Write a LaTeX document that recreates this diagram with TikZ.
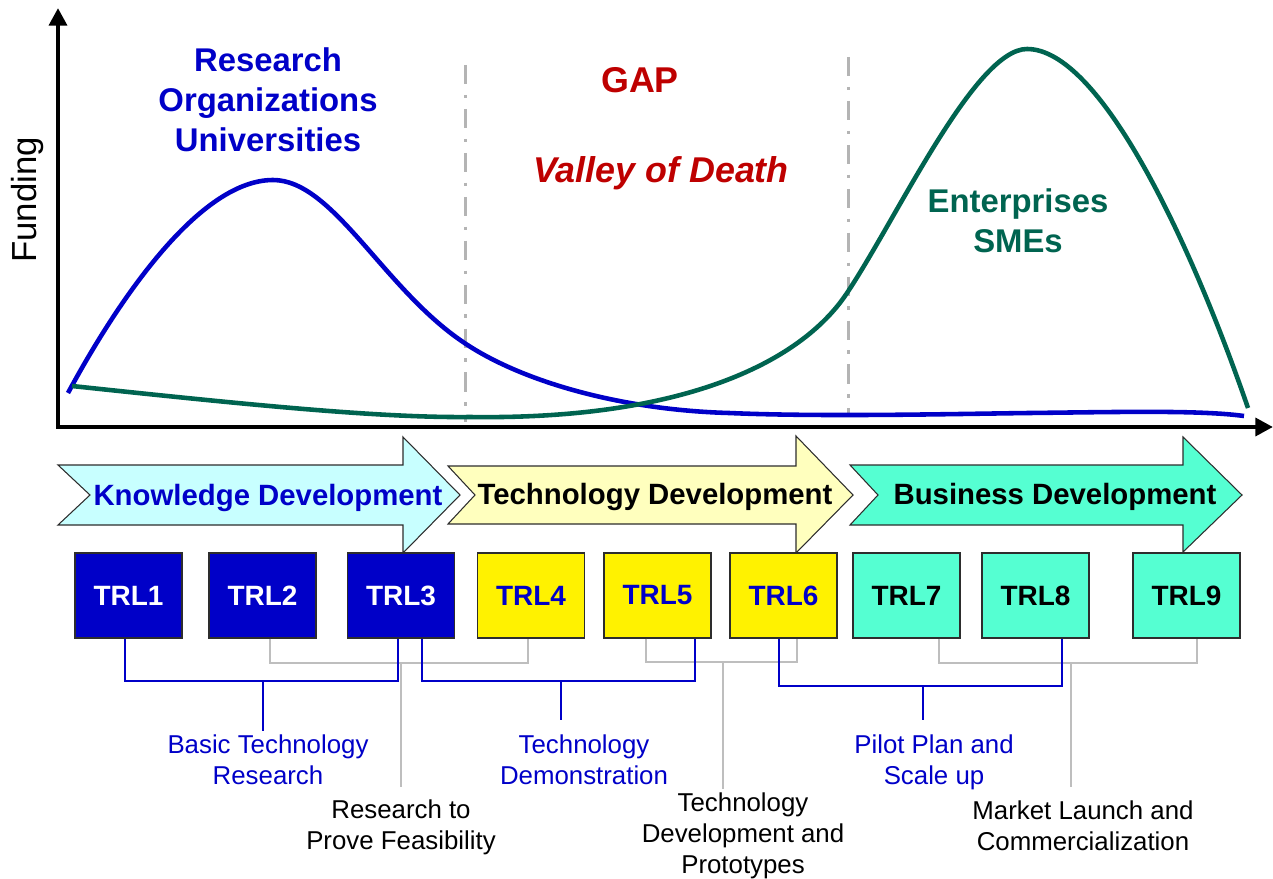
\documentclass[tikz,border=0pt]{standalone}
\usepackage{fontspec}
\setmainfont{Liberation Sans}
\usetikzlibrary{calc,arrows.meta}

\definecolor{trlblue}{RGB}{0,0,200}
\definecolor{entgreen}{RGB}{0,100,80}
\definecolor{gapred}{RGB}{190,0,0}
\definecolor{knowfill}{RGB}{200,255,255}
\definecolor{techfill}{RGB}{255,255,190}
\definecolor{busfill}{RGB}{85,255,210}
\definecolor{linkgray}{RGB}{190,190,190}
\definecolor{dashgray}{RGB}{180,180,180}
\definecolor{boxline}{RGB}{45,45,45}

\tikzset{
  trl/.style={draw=boxline, line width=0.8pt, minimum width=2.14cm, minimum height=1.7cm,
    inner sep=0pt, font=\fontsize{15.9}{19}\selectfont\bfseries},
  phase/.style={draw=boxline, line width=0.6pt},
  phasetext/.style={anchor=base, inner sep=0pt, font=\fontsize{16.7}{20}\selectfont\bfseries},
  bluelink/.style={draw=trlblue, line width=1.1pt},
  graylink/.style={draw=linkgray, line width=1.1pt},
  steplabel/.style={align=center, anchor=north, inner sep=2pt, font=\fontsize{14.7}{17.6}\selectfont},
  actor/.style={align=center, inner sep=0pt, font=\fontsize{18.7}{22.7}\selectfont\bfseries},
  gapline/.style={draw=dashgray, line width=1.7pt, dash pattern=on 11pt off 6pt on 2pt off 6pt},
}

\begin{document}
\begin{tikzpicture}[x=0.02cm, y=-0.02cm]
  \useasboundingbox (0,0) rectangle (1273,878);

  % Axes
  \draw[line width=2.7pt, line join=miter, {Triangle[length=10pt,width=10pt]}-{Triangle[length=10pt,width=10pt]}]
    (58,8) -- (58,427) -- (1273,427);
  \node[rotate=90, font=\fontsize{19.8}{24}\selectfont] (funding) at (28,200) {Funding};

  % Gap borders
  \draw[gapline] (465,65) -- (465,422);
  \draw[gapline] (848,57) -- (848,415);

  % Funding curves
  \draw[trlblue, line width=2.6pt]
    (68,393) .. controls (110,315) and (195,180) .. (273,180)
    .. controls (333,180) and (383,288) .. (463,342)
    .. controls (520,381) and (620,410) .. (729,413)
    .. controls (820,417) and (950,414) .. (1029,413)
    .. controls (1120,412) and (1200,410) .. (1244,416);
  \draw[entgreen, line width=2.6pt]
    (72,386) .. controls (250,405) and (380,418) .. (470,417)
    .. controls (680,420) and (800,364) .. (847,293)
    .. controls (897,218) and (975,49) .. (1027,49)
    .. controls (1100,49) and (1190,240) .. (1248,408);

  % Actors
  \node[actor, text=trlblue] (research) at (268,100) {Research\\Organizations\\Universities};
  \node[actor, text=entgreen] (enterprises) at (1018,221) {Enterprises\\SMEs};
  \node[font=\fontsize{20.4}{24}\selectfont\bfseries, text=gapred, inner sep=0pt] (gap) at (640,80) {GAP};
  \node[font=\fontsize{20.4}{24}\selectfont\bfseries\itshape, text=gapred, anchor=base, inner sep=0pt]
    (valley) at (661,183) {Valley of Death};

  % Phases
  \draw[phase, fill=knowfill] (58,465) -- (403,465) -- (403,437) -- (460,495) -- (403,553)
    -- (403,525) -- (58,525) -- (90,495) -- cycle;
  \draw[phase, fill=techfill] (448,466) -- (796,466) -- (796,436) -- (853,495) -- (796,553)
    -- (796,524) -- (448,524) -- (475,495) -- cycle;
  \draw[phase, fill=busfill] (850,465) -- (1183,465) -- (1183,437) -- (1242,495) -- (1183,552)
    -- (1183,525) -- (850,525) -- (878,495) -- cycle;
  \node[phasetext, text=trlblue] (know) at (268,505) {Knowledge Development};
  \node[phasetext] (tech) at (655,504) {Technology Development};
  \node[phasetext] (bus) at (1055,504) {Business Development};

  % TRL boxes
  \node[trl, fill=trlblue, text=white] (trl1) at (128.5,595.5) {TRL1};
  \node[trl, fill=trlblue, text=white] (trl2) at (262.5,595.5) {TRL2};
  \node[trl, fill=trlblue, text=white] (trl3) at (401,595.5) {TRL3};
  \node[trl, fill=yellow, text=trlblue] (trl4) at (531,595.5) {TRL4};
  \node[trl, fill=yellow, text=trlblue] (trl5) at (657.5,595.5) {TRL5};
  \node[trl, fill=yellow, text=trlblue] (trl6) at (783.5,595.5) {TRL6};
  \node[trl, fill=busfill] (trl7) at (906.5,595.5) {TRL7};
  \node[trl, fill=busfill] (trl8) at (1035.5,595.5) {TRL8};
  \node[trl, fill=busfill] (trl9) at (1186.5,595.5) {TRL9};

  % Step labels
  \node[steplabel, text=trlblue] (basic) at (268,731) {Basic Technology\\Research};
  \node[steplabel, text=trlblue] (demo) at (584,731) {Technology\\Demonstration};
  \node[steplabel, text=trlblue] (pilot) at (934,731) {Pilot Plan and\\Scale up};
  \node[steplabel] (feasible) at (401,796) {Research to\\Prove Feasibility};
  \node[steplabel] (proto) at (743,789) {Technology\\Development and\\Prototypes};
  \node[steplabel] (market) at (1083,797) {Market Launch and\\Commercialization};

  % Gray brackets
  \draw[graylink] ($(trl2.south)+(7.5,0)$) -- ++(0,24) -| ($(trl4.south)+(-3,0)$);
  \draw[graylink] ($(trl5.south)+(-11.5,0)$) -- ++(0,23) -| ($(trl6.south)+(13.5,0)$);
  \draw[graylink] ($(trl7.south)+(32.5,0)$) -- ++(0,24) -| ($(trl9.south)+(10.5,0)$);
  \coordinate (feasfork) at (401,662);
  \coordinate (protofork) at (723,661);
  \coordinate (marketfork) at (1071,662);
  \draw[graylink, shorten >=5pt] (feasfork) -- (feasfork |- feasible.north);
  \draw[graylink] (protofork) -- (protofork |- proto.north);
  \draw[graylink, shorten >=5.5pt] (marketfork) -- (marketfork |- market.north);

  % Blue brackets
  \draw[bluelink] ($(trl1.south)+(-3.5,0)$) -- ++(0,42) -| ($(trl3.south)+(-3,0)$);
  \draw[bluelink] ($(trl3.south)+(21,0)$) -- ++(0,42) -| ($(trl5.south)+(37.5,0)$);
  \draw[bluelink] ($(trl6.south)+(-4.5,0)$) -- ++(0,47) -| ($(trl8.south)+(26.5,0)$);
  \coordinate (basicfork) at (263,680);
  \coordinate (demofork) at (561,680);
  \coordinate (pilotfork) at (923,685);
  \draw[bluelink] (basicfork) -- (basicfork |- basic.north);
  \draw[bluelink, shorten >=6pt] (demofork) -- (demofork |- demo.north);
  \draw[bluelink, shorten >=6pt] (pilotfork) -- (pilotfork |- pilot.north);

\end{tikzpicture}
\end{document}
